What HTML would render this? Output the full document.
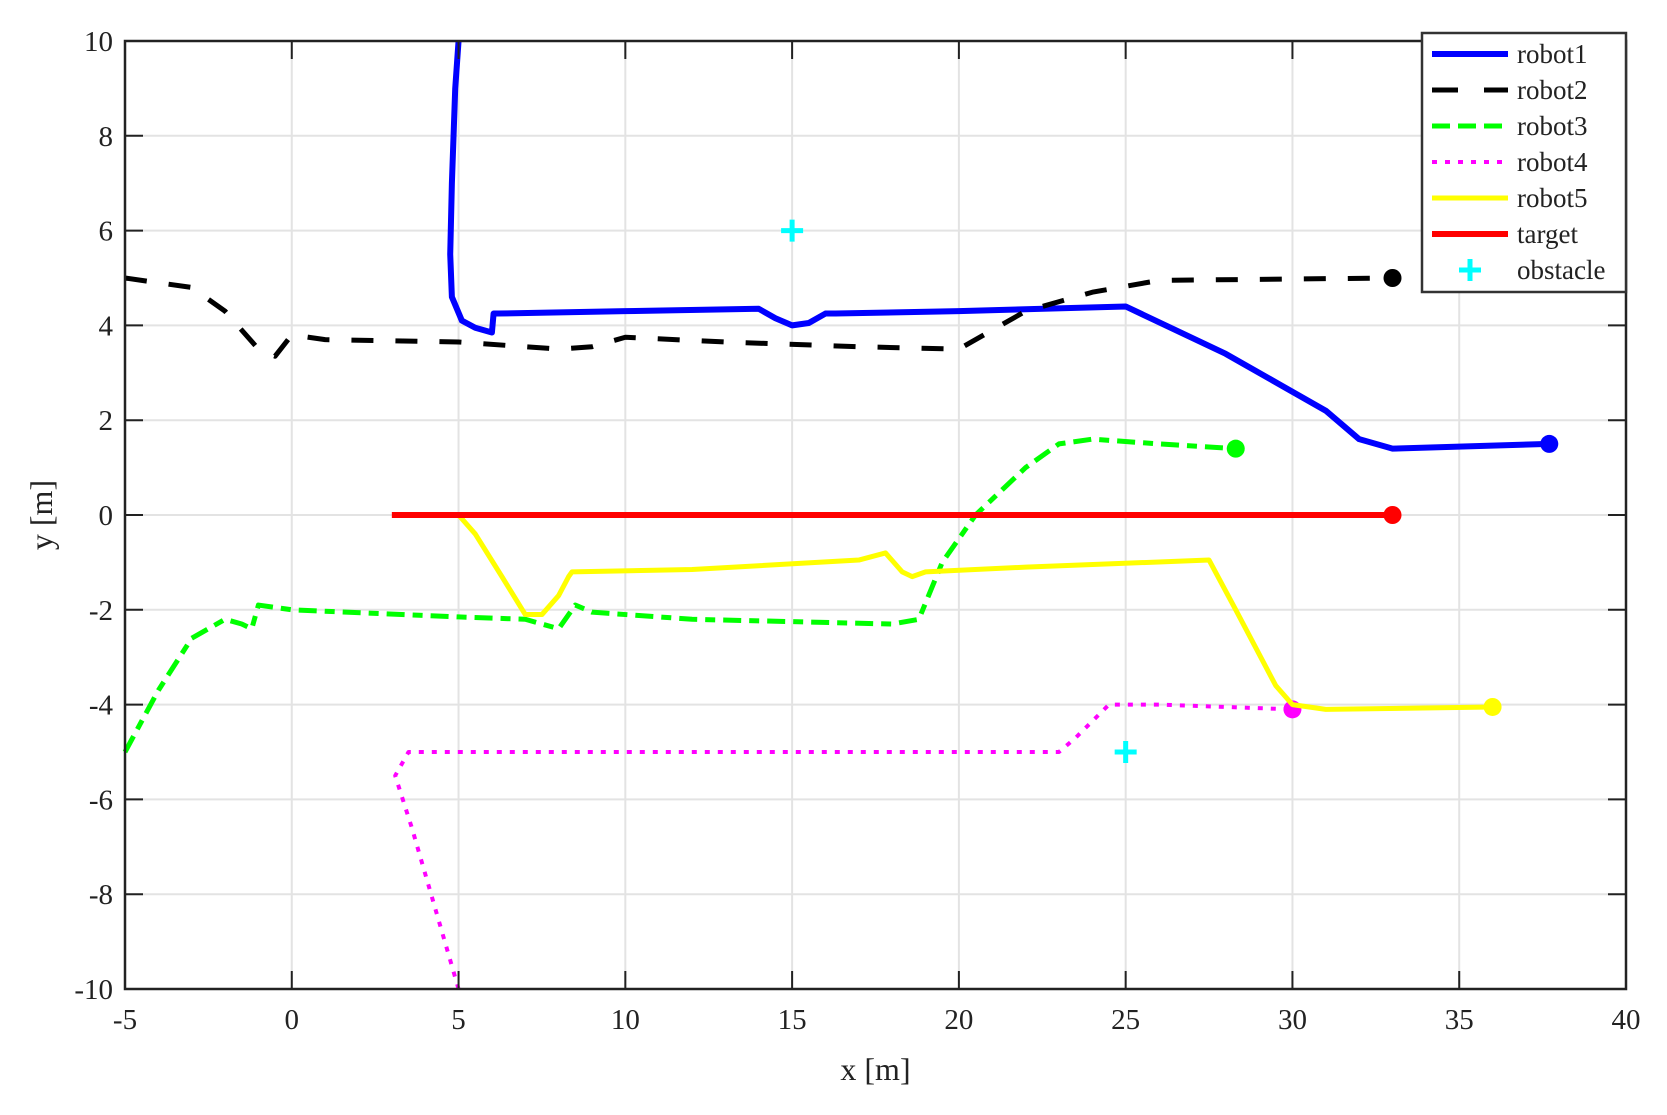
<!DOCTYPE html>
<html><head><meta charset="utf-8"><style>
body{margin:0;background:#fff;}
svg text{font-family:"Liberation Serif",serif;fill:#222;}
</style></head><body>
<svg id="chart" width="1667" height="1110" xmlns="http://www.w3.org/2000/svg">
<g id="grid"></g>
<g id="series"></g>
<g id="axes"></g>
<g id="legend"></g>
</svg>
<script>
const xTicks=[-5,0,5,10,15,20,25,30,35,40];
const yTicks=[-10,-8,-6,-4,-2,0,2,4,6,8,10];
const robot1=[[5,10],[4.9,9],[4.8,7],[4.75,5.5],[4.8,4.6],[5.1,4.1],[5.5,3.95],[6,3.85],[6.05,4.25],[6.2,4.25],[10,4.3],[14,4.35],[14.5,4.15],[15,4.0],[15.5,4.05],[16,4.25],[16.3,4.25],[20,4.3],[25,4.4],[28,3.4],[31,2.2],[32,1.6],[33,1.4],[37.7,1.5]];
const robot2=[[-5,5],[-3,4.8],[-2,4.3],[-1,3.5],[-0.5,3.35],[0,3.8],[1,3.7],[5,3.65],[8,3.5],[9,3.55],[10,3.75],[13,3.65],[17,3.55],[20,3.5],[21,3.9],[22,4.3],[24,4.7],[26,4.95],[33,5]];
const robot3=[[-5,-5],[-4,-3.7],[-3,-2.6],[-2,-2.2],[-1.5,-2.3],[-1.2,-2.4],[-1,-1.9],[0,-2.0],[5,-2.15],[7,-2.2],[8,-2.4],[8.5,-1.9],[9,-2.05],[12,-2.2],[18,-2.3],[18.8,-2.2],[19.5,-1],[20.5,0],[22,1],[23,1.5],[24,1.6],[26,1.5],[28.3,1.4]];
const robot4=[[5,-10],[4.3,-8.3],[3.6,-6.6],[3.1,-5.5],[3.5,-5],[4,-5],[15,-5],[23,-5],[23.5,-4.7],[24.5,-4],[26,-4],[30,-4.1]];
const robot5=[[5,0],[5.5,-0.4],[6.3,-1.3],[7,-2.1],[7.5,-2.1],[8,-1.7],[8.3,-1.3],[8.4,-1.2],[12,-1.15],[17,-0.95],[17.8,-0.8],[18.3,-1.2],[18.6,-1.3],[19,-1.2],[22,-1.1],[27.5,-0.95],[28.3,-2],[29.5,-3.6],[30,-4],[31,-4.1],[36,-4.05]];
const target=[[3,0],[33,0]];
const obstacles=[[15,6],[25,-5]];

const L=125,R=1626,T=41,B=989;
const sx=v=>L+(v+5)/45*(R-L);
const sy=v=>B-(v+10)/20*(B-T);
const NS="http://www.w3.org/2000/svg";
function mk(tag,attrs,parent){const e=document.createElementNS(NS,tag);for(const k in attrs)e.setAttribute(k,attrs[k]);parent.appendChild(e);return e;}
const grid=document.getElementById('grid'),axes=document.getElementById('axes'),ser=document.getElementById('series'),leg=document.getElementById('legend');
xTicks.forEach(t=>{
 const g=mk('line',{x1:sx(t),x2:sx(t),y1:T,y2:B,stroke:'#e3e3e3','stroke-width':2},grid);
 
 
 mk('line',{x1:sx(t),x2:sx(t),y1:B,y2:B-18,stroke:'#222','stroke-width':2},axes);
 mk('line',{x1:sx(t),x2:sx(t),y1:T,y2:T+18,stroke:'#222','stroke-width':2},axes);
 const tx=mk('text',{x:sx(t),y:B+40,'font-size':29,'text-anchor':'middle'},axes);tx.textContent=t;
 
 
});
yTicks.forEach(t=>{
 const g=mk('line',{x1:L,x2:R,y1:sy(t),y2:sy(t),stroke:'#e3e3e3','stroke-width':2},grid);
 
 
 mk('line',{x1:L,x2:L+18,y1:sy(t),y2:sy(t),stroke:'#222','stroke-width':2},axes);
 mk('line',{x1:R,x2:R-18,y1:sy(t),y2:sy(t),stroke:'#222','stroke-width':2},axes);
 const tx=mk('text',{x:L-12,y:sy(t)+10,'font-size':29,'text-anchor':'end'},axes);tx.textContent=t;
 
 
});
mk('rect',{x:L,y:T,width:R-L,height:B-T,fill:'none',stroke:'#222','stroke-width':2.5},axes);
const xl=mk('text',{x:(L+R)/2,y:1080,'font-size':32,'text-anchor':'middle'},axes);xl.textContent='x [m]';


const yl=mk('text',{x:0,y:0,'font-size':32,'text-anchor':'middle',transform:`translate(52,${(T+B)/2}) rotate(-90)`},axes);yl.textContent='y [m]';



const styles=[
 ['robot1',robot1,'#0000ff',6,'none'],
 ['robot2',robot2,'#000',5,'22,22'],
 ['robot3',robot3,'#00ff00',5,'18,8,10,8'],
 ['robot4',robot4,'#ff00ff',4,'5,8'],
 ['robot5',robot5,'#ffff00',5,'none'],
 ['target',target,'#ff0000',6,'none']];
styles.forEach(([n,d,c,w,da])=>{
 const p=mk('polyline',{points:d.map(q=>sx(q[0])+','+sy(q[1])).join(' '),fill:'none',stroke:c,'stroke-width':w,'stroke-dasharray':da,'stroke-linejoin':'round'},ser);
 
 
 const last=d[d.length-1];
 const m=mk('circle',{cx:sx(last[0]),cy:sy(last[1]),r:9,fill:c},ser);
 
 
});
obstacles.forEach(o=>{
 const g=mk('path',{d:`M${sx(o[0])-11},${sy(o[1])}h22M${sx(o[0])},${sy(o[1])-11}v22`,stroke:'#00ffff','stroke-width':5},ser);
 
 
});
const lb=mk('rect',{x:1422,y:33,width:204,height:259,fill:'#fff',stroke:'#333','stroke-width':2.5},leg);


styles.concat([['obstacle',null,'#00ffff',0,'none']]).forEach(([n,d,c,w,da],i)=>{
 const y=54+i*36;
 const g=mk('g',{},leg);
 
 
 if(n==='obstacle'){mk('path',{d:`M1459,${y}h22M1470,${y-11}v22`,stroke:c,'stroke-width':5},g);}
 else mk('line',{x1:1432,x2:1508,y1:y,y2:y,stroke:c,'stroke-width':w,'stroke-dasharray':n==='robot2'?'26,26':(n==='robot3'?'18,8':da)},g);
 const t=mk('text',{x:1517,y:y+9,'font-size':27},g);t.textContent=n;
});
</script>
</body></html>
